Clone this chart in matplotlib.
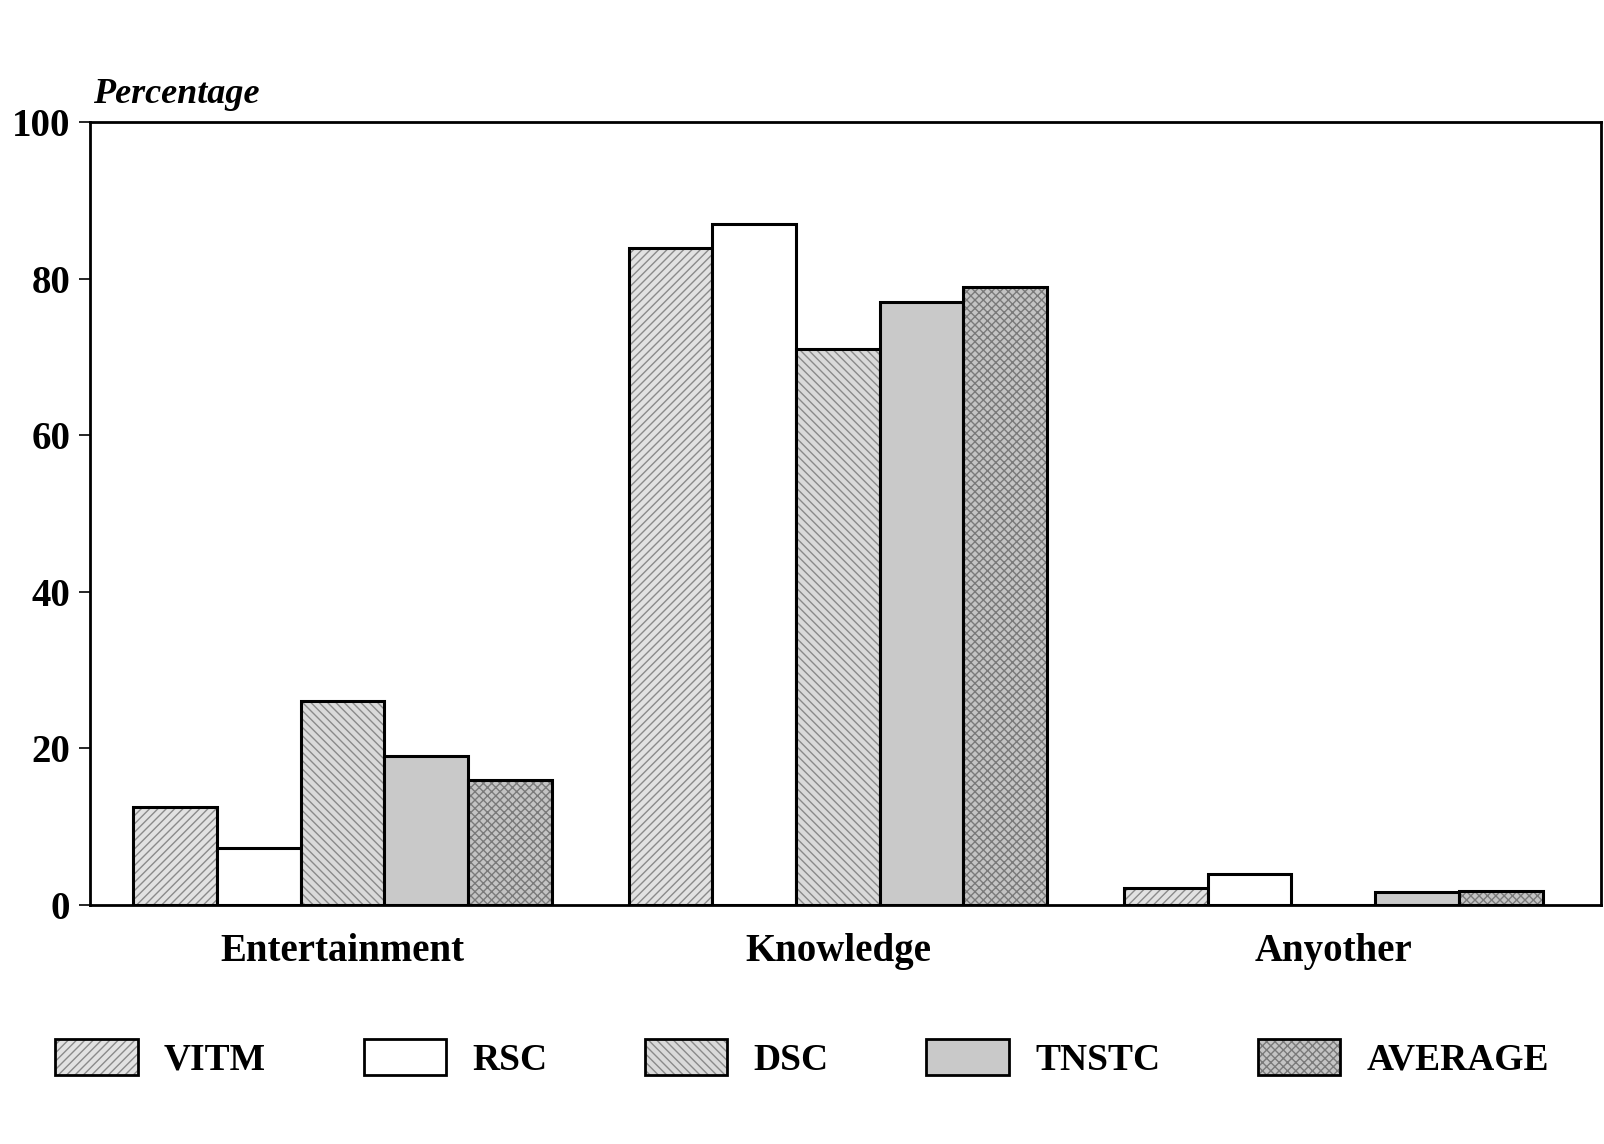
import matplotlib.pyplot as plt
import numpy as np
from matplotlib.legend_handler import HandlerPatch
import matplotlib.patches as mpatches

plt.rcParams['font.family'] = ['Liberation Serif', 'DejaVu Serif']
plt.rcParams['font.weight'] = 'bold'

categories = ['Entertainment', 'Knowledge', 'Anyother']
series = ['VITM', 'RSC', 'DSC', 'TNSTC', 'AVERAGE']
values = {
    'VITM':    [12.5, 84, 2.2],
    'RSC':     [7.3, 87, 4],
    'DSC':     [26, 71, 0],
    'TNSTC':   [19, 77, 1.6],
    'AVERAGE': [16, 79, 1.8],
}
yticks = [0, 20, 40, 60, 80, 100]

# fill, hatch, hatch colour for each series
styles = {
    'VITM':    ('#e2e2e2', '////', '#8a8a8a'),
    'RSC':     ('white', '', 'black'),
    'DSC':     ('#dadada', '\\\\\\\\', '#8a8a8a'),
    'TNSTC':   ('#c9c9c9', '', 'black'),
    'AVERAGE': ('#c4c4c4', 'xxxx', '#7a7a7a'),
}

fig = plt.figure(figsize=(16.04, 11.44), dpi=100)
ax = fig.add_axes([0.056, 0.209, 0.942, 0.684])

x = np.arange(len(categories))
w = 0.169
handles = []
for i, name in enumerate(series):
    pos = x + (i - 2) * w
    face, hatch, hcol = styles[name]
    # hatch layer first, then the black outline on top
    ax.bar(pos, values[name], w, color=face, hatch=hatch, edgecolor=hcol, linewidth=0)
    ax.bar(pos, values[name], w, fill=False, edgecolor='black', linewidth=2.2)
    handles.append(mpatches.Rectangle((0, 0), 1, 1, facecolor=face, hatch=hatch,
                                      edgecolor=hcol, linewidth=0))

ax.set_xlim(-0.51, 2.54)
ax.set_ylim(0, 100)
ax.set_yticks(yticks)
ax.set_yticklabels([str(t) for t in yticks], fontsize=28, fontweight='bold')
ax.tick_params(axis='y', length=8, width=1.2, pad=6)
ax.set_xticks(x)
ax.set_xticklabels(categories, fontsize=28, fontweight='bold')
ax.tick_params(axis='x', length=0, pad=20)
for s in ax.spines.values():
    s.set_linewidth(2)

fig.text(0.058, 0.91, 'Percentage', fontsize=26, fontweight='bold', style='italic')


class BoxHandler(HandlerPatch):
    # legend box with hatch and a black outline
    def create_artists(self, legend, orig, xd, yd, width, height, fontsize, trans):
        p = mpatches.Rectangle((-xd, -yd), width, height, facecolor=orig.get_facecolor(),
                               hatch=orig.get_hatch(), edgecolor=orig.get_edgecolor(),
                               linewidth=0, transform=trans)
        b = mpatches.Rectangle((-xd, -yd), width, height, fill=False,
                               edgecolor='black', linewidth=2, transform=trans)
        return [p, b]


fig.legend(handles, series, loc='center', bbox_to_anchor=(0.5, 0.075), ncol=5,
           frameon=False, fontsize=27, handlelength=2.2, handleheight=1.1,
           columnspacing=2.6, handletextpad=0.7,
           handler_map={mpatches.Rectangle: BoxHandler()})

fig.savefig('out.png', dpi=100)
